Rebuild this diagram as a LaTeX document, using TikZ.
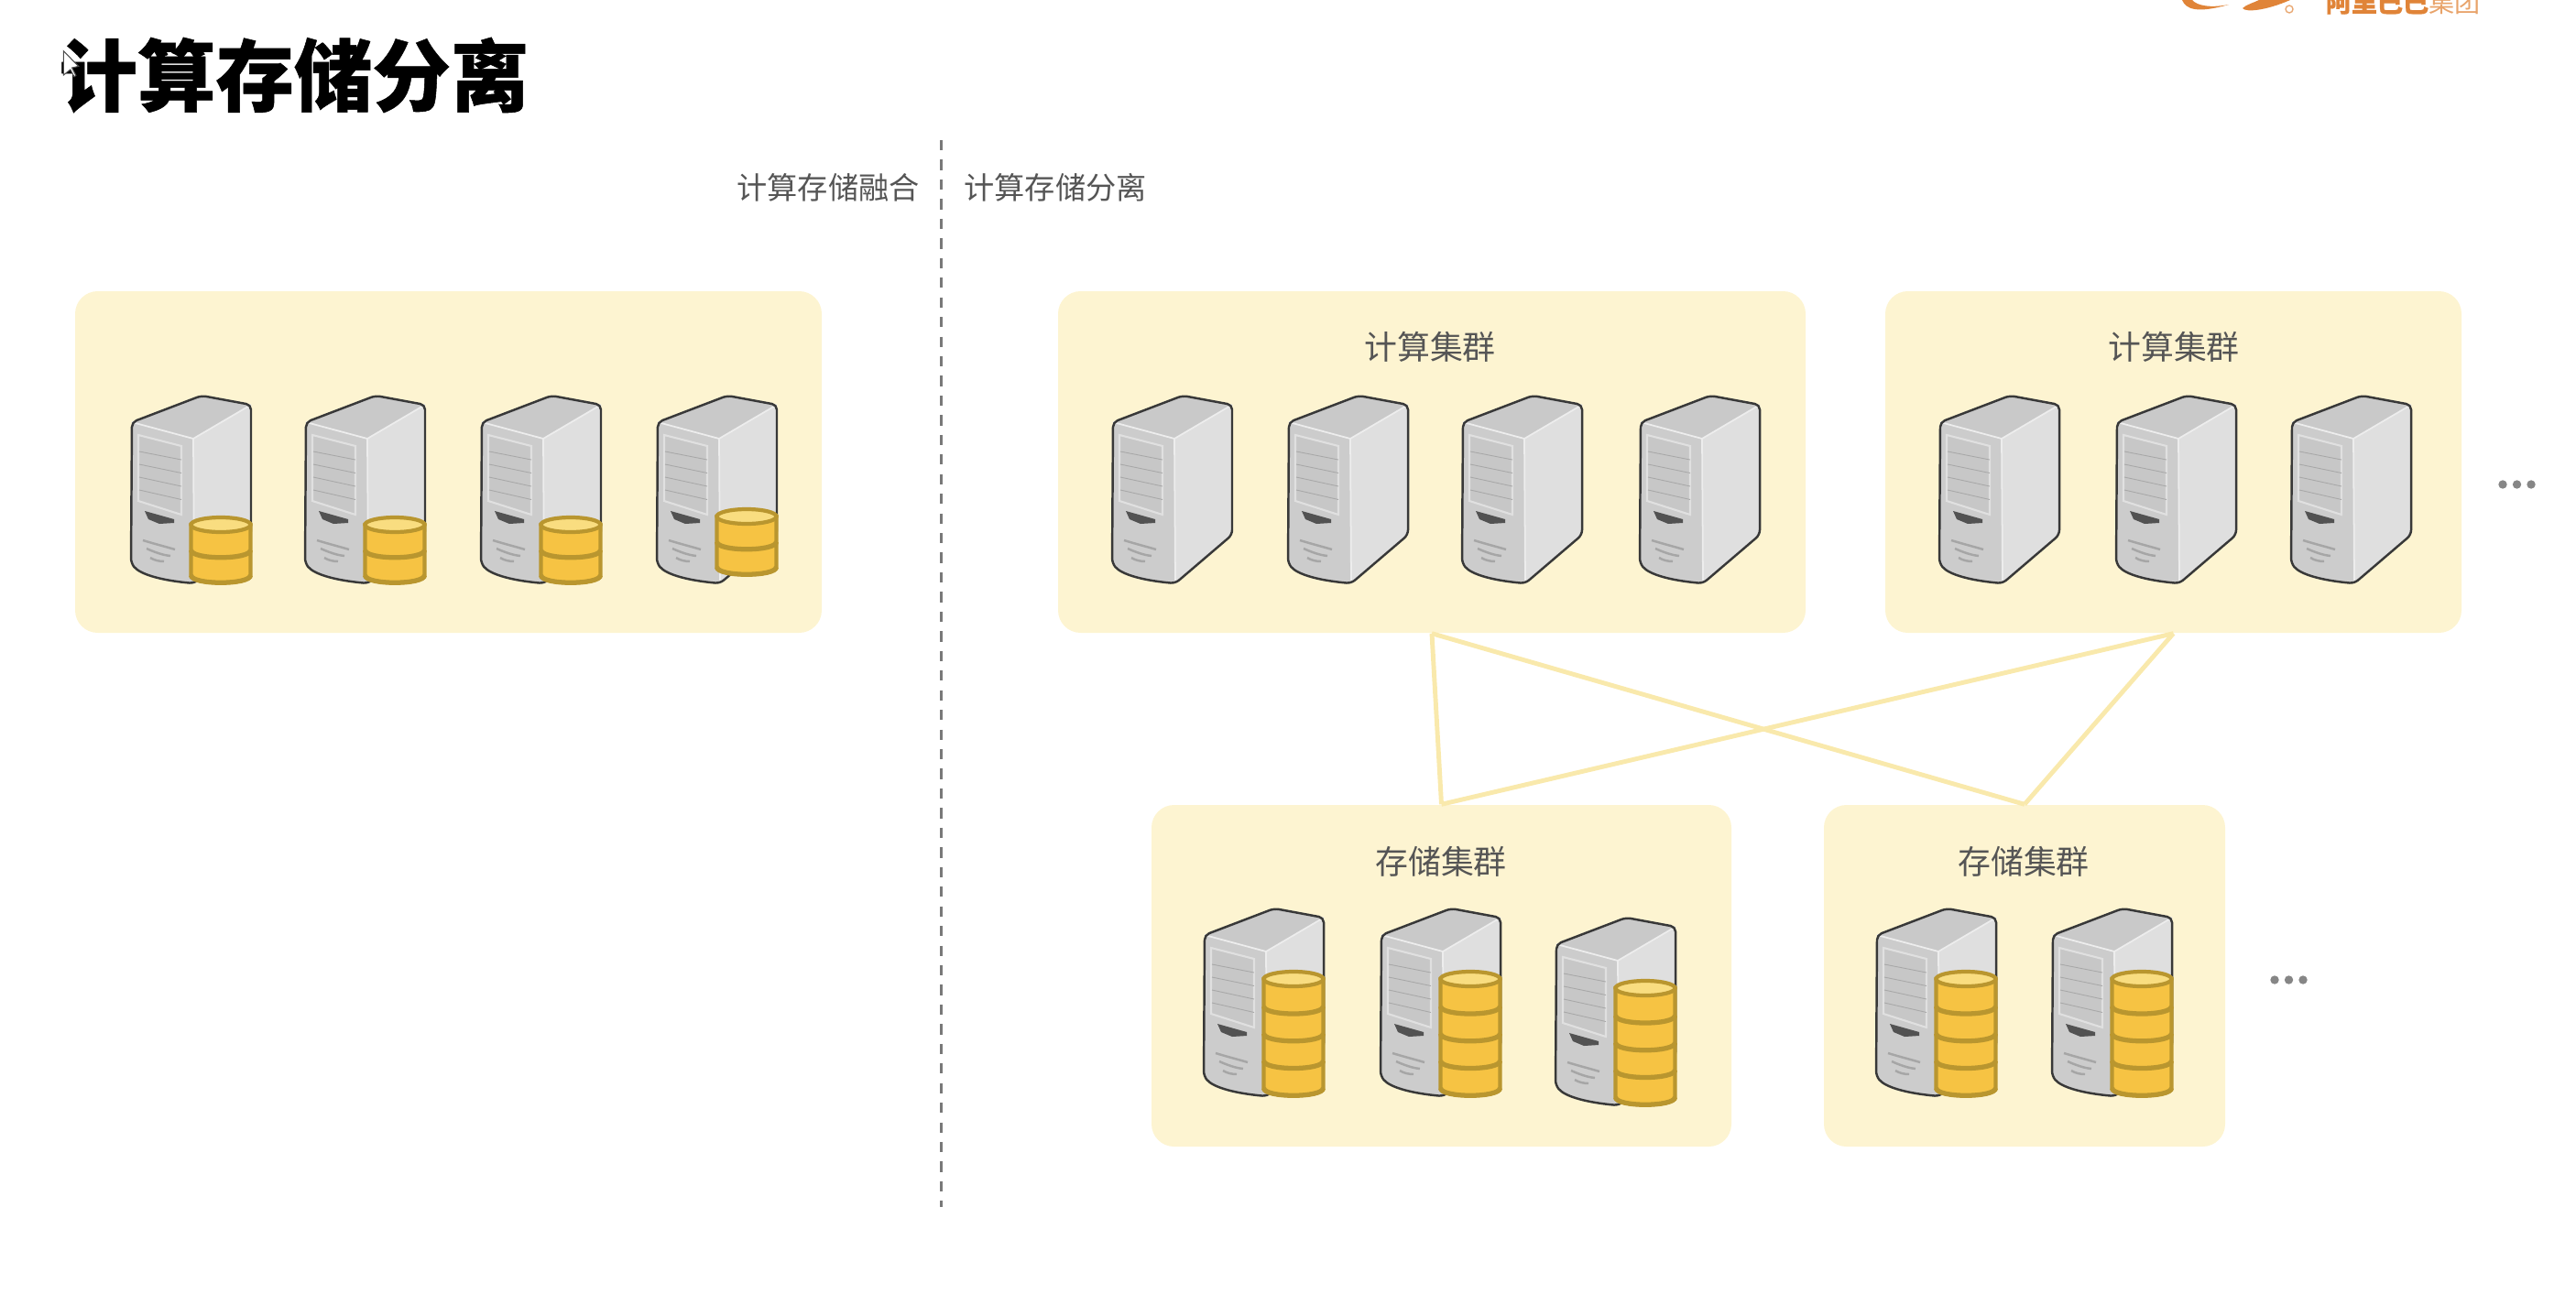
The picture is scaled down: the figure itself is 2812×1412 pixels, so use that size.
\documentclass[tikz,border=0pt]{standalone}
\usepackage{fontspec}
\setmainfont[BoldFeatures={FakeBold=0.6}]{Noto Sans CJK SC}
\definecolor{boxfill}{HTML}{FDF4D1}
\definecolor{linkline}{HTML}{F9E9AC}
\definecolor{labelgray}{HTML}{555555}
\definecolor{diskbody}{HTML}{F6C343}
\definecolor{disklid}{HTML}{F9DD80}
\definecolor{diskline}{HTML}{B9962F}
\definecolor{logoorange}{HTML}{E08438}
\tikzset{
  clusterbox/.style={fill=boxfill,rounded corners=7pt,inner sep=0pt},
  clusterlabel/.style={text=labelgray,font=\fontsize{10.2pt}{12pt}\selectfont},
  sidelabel/.style={text=labelgray,font=\fontsize{9.45pt}{11pt}\selectfont},
  pics/servermachine/.style={code={
    \fill[gray!42] (25,51) -- (101,22) -- (155,32) -- (92,69) -- cycle;
    \fill[gray!25] (92,69) -- (155,32) -- (155,174) -- (93,227) -- cycle;
    \fill[gray!40] (25,51) -- (92,69) -- (93,227) .. controls (60,224) and (35,218) .. (24,205) -- cycle;
    \draw[gray!14,line width=0.5pt] (25,51) -- (92,69) -- (155,32);
    \draw[gray!14,line width=0.5pt] (92,69) -- (93,227);
    \draw[gray!24,fill=gray!44,line width=0.6pt] (32,65) -- (79,77) -- (79,152) -- (32,137) -- cycle;
    \foreach \s in {0,1,2,3}{\draw[gray!68,line width=0.25pt] (33,83+14*\s) -- (79,92+14.5*\s);}
    \fill[black!68] (39,148) -- (71,157) -- (71,161) -- (55,162) -- (43,157) -- cycle;
    \draw[gray!70,line width=0.7pt] (37,180) .. controls (50,184) and (62,187) .. (72,190);
    \draw[gray!70,line width=0.7pt] (41,189) .. controls (50,193) and (58,196) .. (67,197);
    \draw[gray!70,line width=0.7pt] (45,199) .. controls (50,202) and (55,203) .. (60,203);
    \draw[black!78,line width=0.7pt,rounded corners=1.5pt] (25,51) -- (101,22) -- (155,32) -- (155,174) -- (93,227) .. controls (60,224) and (35,218) .. (24,205) -- cycle;
  }},
  pics/diskstack/.style={code={
    \pgfmathsetmacro\disktop{227-#1*32}
    \pgfmathsetmacro\diskgap{(218-\disktop)/#1}
    \draw[diskline,line width=1.2pt,fill=diskbody] (89.5,\disktop) -- (89.5,218) .. controls (89.5,229) and (154.5,229) .. (154.5,218) -- (154.5,\disktop) -- cycle;
    \foreach \layer in {1,...,#1}{
      \draw[diskline,line width=1.5pt] (89.5,\disktop+\layer*\diskgap) .. controls (89.5,\disktop+\layer*\diskgap+11) and (154.5,\disktop+\layer*\diskgap+11) .. (154.5,\disktop+\layer*\diskgap);
    }
    \draw[diskline,line width=1.2pt,fill=disklid] (122,\disktop) ellipse [x radius=32.5,y radius=8];
  }},
}
\begin{document}
\begin{tikzpicture}[x=0.01cm,y=-0.01cm]
\useasboundingbox (0,0) rectangle (2812,1412);
% logo cut off by the top edge
\begin{scope}
\clip (0,0) rectangle (2812,1412);
\fill[logoorange] (2382,0) .. controls (2386,10) and (2398,15) .. (2433,5) .. controls (2412,9) and (2398,6) .. (2393,0) -- cycle;
\fill[logoorange] (2448,9) .. controls (2452,14) and (2475,11) .. (2500,0) -- (2466,0) .. controls (2460,3) and (2452,5) .. (2448,9) -- cycle;
\draw[logoorange!70,line width=0.4pt] (2499,10) circle (4);
\node[anchor=base west,inner sep=0pt,text=logoorange,font=\fontsize{8pt}{9pt}\selectfont] (logotext) at (2538,13) {\textbf{阿里巴巴}\textcolor{logoorange!75}{集团}};
\end{scope}
\node[font=\bfseries\fontsize{24.3pt}{27pt}\selectfont,inner sep=0pt] (pagetitle) at (321,82) {计算存储分离};
\draw[black!70,fill=white,line width=0.3pt] (69.3,55.6) -- (69.3,82) -- (76.8,76) -- (81,83.8) -- (82.9,82.4) -- (78.6,74) -- (85.7,72.4) -- cycle;
% divider
\coordinate (dashtop) at (1027,153);
\coordinate (dashbottom) at (1027,1318);
\draw[gray!95!black,line width=0.85pt,dash pattern=on 3.2pt off 2.9pt] (dashtop) -- (dashbottom);
\node[sidelabel] (mergedlabel) at (904,205) {计算存储融合};
\node[sidelabel] (splitlabel) at (1152,205) {计算存储分离};
% cluster boxes
\node[clusterbox,minimum width=815*0.01cm,minimum height=373*0.01cm] (mergedbox) at (489.5,504.5) {};
\node[clusterbox,minimum width=816*0.01cm,minimum height=373*0.01cm] (computeA) at (1563,504.5) {};
\node[clusterbox,minimum width=629*0.01cm,minimum height=373*0.01cm] (computeB) at (2372.5,504.5) {};
\node[clusterbox,minimum width=633*0.01cm,minimum height=373*0.01cm] (storeA) at (1573.5,1065.5) {};
\node[clusterbox,minimum width=438*0.01cm,minimum height=373*0.01cm] (storeB) at (2210,1065.5) {};
\foreach \a/\b in {computeA/storeA,computeA/storeB,computeB/storeA,computeB/storeB}{
  \draw[linkline,line width=1.4pt] (\a.south) -- (\b.north);
}
\node[clusterlabel] (computeAlabel) at (1561,379) {计算集群};
\node[clusterlabel] (computeBlabel) at (2373,379) {计算集群};
\node[clusterlabel] (storeAlabel) at (1573,941) {存储集群};
\node[clusterlabel] (storeBlabel) at (2209,941) {存储集群};
% servers
\foreach \sx in {119,309,501,693}{\pic at (\sx,410) {servermachine};}
\foreach \sx in {119,309,501}{\pic at (\sx,410) {diskstack=2};}
\pic at (693,401) {diskstack=2};
\foreach \sx in {1190,1382,1572,1766,2093,2286,2477}{\pic at (\sx,410) {servermachine};}
\foreach \sx/\sy in {1290/970,1483/970,1674/980,2024/970,2216/970}{
  \pic at (\sx,\sy) {servermachine};
  \pic at (\sx,\sy) {diskstack=4};
}
% more clusters
\foreach \dx in {2732,2747.5,2763}{\fill[gray!95] (\dx,529) circle (4.7);}
\foreach \dx in {2483,2498.5,2514}{\fill[gray!95] (\dx,1070) circle (4.7);}
\end{tikzpicture}
\end{document}
